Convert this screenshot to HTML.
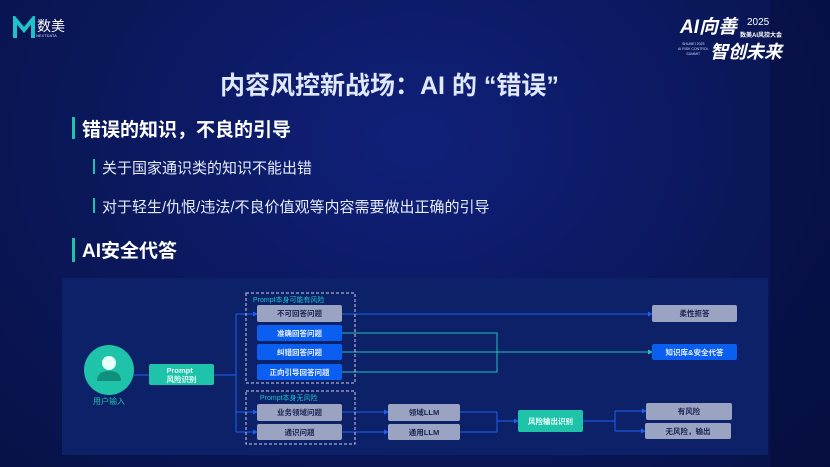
<!DOCTYPE html>
<html><head><meta charset="utf-8"><style>
body{margin:0;width:830px;height:467px;overflow:hidden;background:radial-gradient(ellipse at 50% 30%,#10207a 0%,#0a1758 60%,#081248 100%);font-family:"Liberation Sans","Noto Sans CJK SC",sans-serif;position:relative}
.a{position:absolute}
.b{position:absolute;display:flex;align-items:center;justify-content:center;font-size:7.5px;font-weight:bold;color:#1a2450;background:#9aa3c2;border-radius:2px}
.bl{background:#0a5ef0;color:#e8f0ff}
.t{background:#1ec3a9;color:#eafffb}
</style></head><body>
<div class="a" style="left:770px;top:0;width:60px;height:467px;background:rgba(5,10,50,0.35)"></div>
<!-- logo -->
<svg class="a" style="left:13px;top:16px" width="22" height="24"><path d="M2,22V3L11,14L20,3V22" fill="none" stroke="#1ec3c9" stroke-width="4"/></svg>
<div class="a" style="left:37px;top:16px;color:#fff;font-size:14px">数美</div>
<div class="a" style="left:36px;top:33px;color:#cfd8ff;font-size:4px">NEXTDATA</div>
<!-- right logo -->
<div class="a" style="left:680px;top:12px;color:#fff;font-size:19px;font-weight:bold;font-style:italic">AI向善</div>
<div class="a" style="left:747px;top:17px;color:#fff;font-size:10px">2025</div>
<div class="a" style="left:740px;top:30px;color:#fff;font-size:6px;font-weight:bold">数美AI风控大会</div>
<div class="a" style="left:710px;top:38px;color:#fff;font-size:18px;font-weight:bold;font-style:italic">智创未来</div>
<div class="a" style="left:678px;top:42px;color:#cfd8ff;font-size:3.5px;line-height:5px;text-align:center">SHUMEI 2025<br>AI RISK CONTROL<br>SUMMIT</div>
<!-- title -->
<div class="a" style="left:220px;top:66px;white-space:nowrap;color:#dfe8ff;font-size:25px;font-weight:bold">内容风控新战场：AI 的 “错误”</div>
<div class="a" style="left:72px;top:117px;width:3px;height:22px;background:#1ec3a9"></div>
<div class="a" style="left:82px;top:115px;color:#fff;font-size:19px;font-weight:bold">错误的知识，不良的引导</div>
<div class="a" style="left:93px;top:159px;width:2px;height:15px;background:#1ec3a9"></div>
<div class="a" style="left:102px;top:157px;color:#e6ecff;font-size:15px">关于国家通识类的知识不能出错</div>
<div class="a" style="left:93px;top:198px;width:2px;height:15px;background:#1ec3a9"></div>
<div class="a" style="left:102px;top:196px;color:#e6ecff;font-size:15px">对于轻生/仇恨/违法/不良价值观等内容需要做出正确的引导</div>
<div class="a" style="left:72px;top:238px;width:3px;height:24px;background:#1ec3a9"></div>
<div class="a" style="left:82px;top:236px;color:#fff;font-size:19px;font-weight:bold">AI安全代答</div>
<!-- panel -->
<div class="a" style="left:62px;top:278px;width:706px;height:177px;background:#0d2168"></div>
<svg class="a" style="left:0;top:0" width="830" height="467">
<defs><marker id="m" markerWidth="5" markerHeight="5" refX="4" refY="2.5" orient="auto"><path d="M0,0L5,2.5L0,5z" fill="#1f5ff0"/></marker>
<marker id="n" markerWidth="5" markerHeight="5" refX="4" refY="2.5" orient="auto"><path d="M0,0L5,2.5L0,5z" fill="#1ec3c9"/></marker></defs>
<g fill="none" stroke="#1f5ff0" stroke-width="1">
<path d="M134,375H149"/>
<path d="M214,375H236M236,314V432"/>
<path d="M236,314H257" marker-end="url(#m)"/>
<path d="M236,412H257" marker-end="url(#m)"/>
<path d="M236,432H257" marker-end="url(#m)"/>
<path d="M342,314H652" marker-end="url(#m)"/>
<path d="M342,412H388" marker-end="url(#m)"/>
<path d="M342,432H388" marker-end="url(#m)"/>
<path d="M460,412H497M460,432H497M497,412V432M497,421H518" marker-end="url(#m)"/>
<path d="M583,421H615M615,411V431"/>
<path d="M615,411H646" marker-end="url(#m)"/>
<path d="M615,431H645" marker-end="url(#m)"/>
</g>
<g fill="none" stroke="#1ec3b9" stroke-width="1">
<path d="M342,333H497V372H342"/>
<path d="M342,352H652" marker-end="url(#n)"/>
</g>
<rect x="246" y="293" width="109" height="90" fill="none" stroke="#c8d0e8" stroke-dasharray="3,2"/>
<rect x="246" y="391" width="109" height="53" fill="none" stroke="#c8d0e8" stroke-dasharray="3,2"/>
<circle cx="109" cy="370" r="25" fill="#1ec3a9"/>
<circle cx="109" cy="363" r="7" fill="#e6fff9"/>
<path d="M97,381Q97,371 109,371Q121,371 121,381Z" fill="#10907c"/>
<text x="253" y="302" font-size="7" fill="#1ec3c9" font-family="Liberation Sans,Noto Sans CJK SC,sans-serif">Prompt本身可能有风险</text>
<text x="260" y="400" font-size="7" fill="#1ec3c9" font-family="Liberation Sans,Noto Sans CJK SC,sans-serif">Prompt本身无风险</text>
<text x="109" y="404" font-size="8" fill="#1ec3a9" text-anchor="middle" font-family="Liberation Sans,Noto Sans CJK SC,sans-serif">用户输入</text>
</svg>
<div class="b t" style="left:149px;top:364px;width:65px;height:21px;flex-direction:column;line-height:9px">Prompt<br>风险识别</div>
<div class="b" style="left:257px;top:305px;width:85px;height:17px">不可回答问题</div>
<div class="b bl" style="left:257px;top:325px;width:85px;height:16px">准确回答问题</div>
<div class="b bl" style="left:257px;top:344px;width:85px;height:16px">纠错回答问题</div>
<div class="b bl" style="left:257px;top:364px;width:85px;height:16px">正向引导回答问题</div>
<div class="b" style="left:257px;top:404px;width:85px;height:17px">业务领域问题</div>
<div class="b" style="left:257px;top:424px;width:85px;height:16px">通识问题</div>
<div class="b" style="left:388px;top:404px;width:72px;height:17px">领域LLM</div>
<div class="b" style="left:388px;top:424px;width:72px;height:16px">通用LLM</div>
<div class="b t" style="left:518px;top:410px;width:65px;height:22px">风险输出识别</div>
<div class="b" style="left:652px;top:305px;width:85px;height:17px">柔性拒答</div>
<div class="b bl" style="left:652px;top:344px;width:85px;height:16px">知识库&amp;安全代答</div>
<div class="b" style="left:646px;top:403px;width:86px;height:17px">有风险</div>
<div class="b" style="left:645px;top:423px;width:86px;height:16px">无风险，输出</div>
</body></html>
